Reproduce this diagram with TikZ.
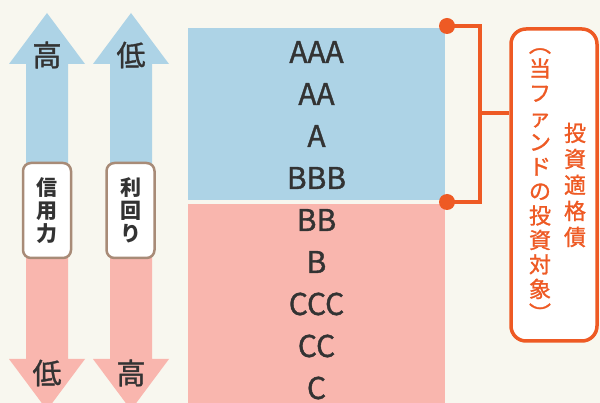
\documentclass[tikz,border=0pt]{standalone}
\usepackage{fontspec}
\setmainfont{Noto Sans CJK JP}
\newfontfamily\medfont{Noto Sans CJK JP}[FakeBold=1.2]
\usetikzlibrary{positioning}

\definecolor{bgcream}{HTML}{F8F7EF}
\definecolor{upblue}{HTML}{ADD3E6}
\definecolor{downpink}{HTML}{F9B6AE}
\definecolor{tagorange}{HTML}{EE5A24}
\definecolor{labelbrown}{HTML}{A88B77}
\definecolor{inkgray}{HTML}{333333}

\tikzset{
  rating/.style={text=inkgray,font=\medfont\fontsize{30}{33}\selectfont,inner sep=0pt},
  arrowword/.style={text=inkgray,font=\medfont\fontsize{29}{32}\selectfont,inner sep=0pt},
  axislabel/.style={draw=labelbrown,line width=2.5pt,fill=white,rounded corners=8pt,
    minimum width=48pt,minimum height=95pt,align=center,text=inkgray,
    font=\bfseries\fontsize{21}{23}\selectfont},
  bracket/.style={draw=tagorange,line width=3.5pt},
  tagbox/.style={draw=tagorange,line width=3.5pt,fill=white,rounded corners=15pt,
    minimum width=86pt,minimum height=312pt},
  tagtext/.style={text=tagorange,align=center,inner sep=0pt},
}

\begin{document}
\begin{tikzpicture}[x=1pt,y=-1pt]
  \fill[bgcream] (0,0) rectangle (600,403);
  \useasboundingbox (0,0) rectangle (600,403);

  % arrows
  \foreach \cx in {47,131} {
    \fill[upblue] (\cx-21,180) -- (\cx-21,64) -- (\cx-38,64) -- (\cx,13)
      -- (\cx+38,64) -- (\cx+21,64) -- (\cx+21,180) -- cycle;
    \fill[downpink] (\cx-21,245) -- (\cx-21,359) -- (\cx-38,359) -- (\cx,410)
      -- (\cx+38,359) -- (\cx+21,359) -- (\cx+21,245) -- cycle;
  }
  \node[arrowword] (hi1) at (47,55) {高};
  \node[arrowword] (lo2) at (131,55) {低};
  \node[arrowword] (lo1) at (47,373) {低};
  \node[arrowword] (hi2) at (131,373) {高};

  \node[axislabel] (credit) at (47,210.5) {信\\用\\力};
  \node[axislabel] (yield) at (130.5,210.5) {利\\回\\り};

  % rating scale
  \fill[upblue] (188,28) rectangle (445,200);
  \fill[downpink] (188,204) rectangle (445,410);
  \foreach \r [count=\i from 0] in {AAA,AA,A,BBB,BB,B,CCC,CC,C}
    \node[rating] (r\i) at (316.5,52+42*\i) {\r};

  % bracket and tag
  \node[tagbox] (tag) at (554,185) {};
  \node[tagtext,font=\medfont\fontsize{22}{24.5}\selectfont] (tagsub) at (540,185)
    {︵\\当\\フ\\ァ\\ン\\ド\\の\\投\\資\\対\\象\\︶};
  \node[tagtext,font=\medfont\fontsize{22}{26}\selectfont] (tagmain) at (575,185)
    {投\\資\\適\\格\\債};
  \coordinate (dtop) at (447,26);
  \coordinate (dbot) at (447,202);
  \coordinate (joint) at (480,113);
  \draw[bracket] (dtop) -| (joint);
  \draw[bracket] (dbot) -| (joint);
  \draw[bracket] (joint) -- (joint -| tag.west);
  \fill[tagorange] (dtop) circle (8);
  \fill[tagorange] (dbot) circle (8);
\end{tikzpicture}
\end{document}
